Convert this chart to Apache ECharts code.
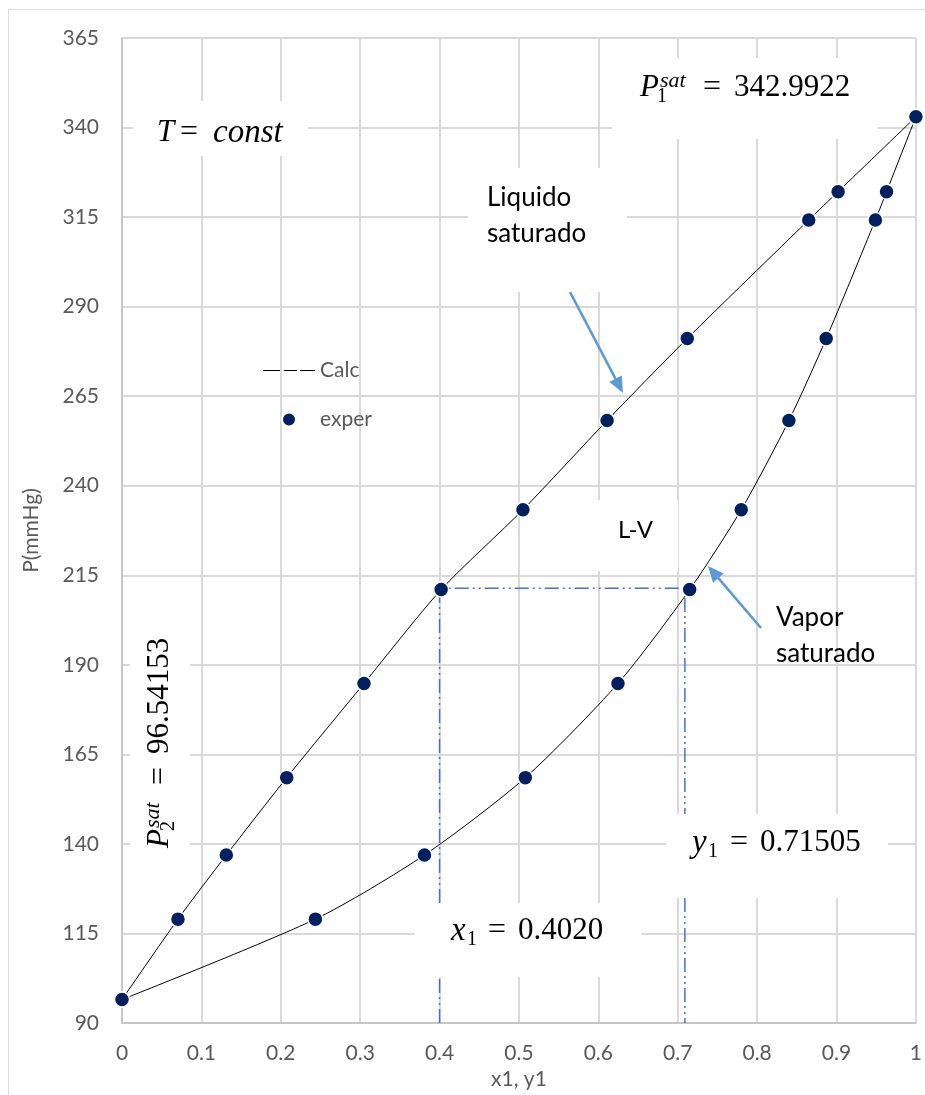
<!DOCTYPE html>
<html><head><meta charset="utf-8">
<script src="https://cdn.jsdelivr.net/npm/echarts@6/dist/echarts.min.js"></script>
<style>html,body{margin:0;padding:0;background:#fff}#c{width:925px;height:1095px}</style>
</head><body><div id="c"></div>
<script>
// ---- data ----
const pressure = [96.54153, 119.0, 136.9, 158.5, 184.8, 211.0, 233.3, 258.2, 281.1, 314.2, 322.1, 342.9922];
const liquidX1 = [0, 0.0705, 0.1314, 0.2075, 0.3048, 0.4020, 0.505, 0.611, 0.712, 0.865, 0.902, 1];
const vaporY1  = [0, 0.2436, 0.381, 0.508, 0.6247, 0.71505, 0.780, 0.840, 0.887, 0.949, 0.963, 1];
const yTickLabels = ['90','115','140','165','190','215','240','265','290','315','340','365'];
const guideX = [0.400, 0.709];
const guideP = 211.4;
const guideBase = 90;

const chart = echarts.init(document.getElementById('c'), null, {renderer:'canvas'});

const liquidData = liquidX1.map((x,i)=>[x, pressure[i]]);
const vaporData = vaporY1.map((y,i)=>[y, pressure[i]]);
const guideData = [[guideX[0], guideBase],[guideX[0], guideP],[guideX[1], guideP],[guideX[1], guideBase]];

const SERIF = '"Liberation Serif", "DejaVu Serif", serif';
const SANS = 'Lato, "Open Sans", sans-serif';

function txt(x, y, text, size, italic, family, extra) {
  return Object.assign({
    type:'text', x:x, y:y, z:5, z2:10,
    style:{text:text, fontSize:size, fontStyle: italic?'italic':'normal', fontFamily: family || SERIF,
      fill:'#000', align:'left', verticalAlign:'middle', textAlign:'left', textVerticalAlign:'middle'}
  }, extra||{});
}
function sansBlock(x, y, text, size, lh){
  return {type:'text', x:x, y:y, z:5, z2:10,
    style:{text:text, fontSize:size, fontFamily:SANS, fill:'#000', lineHeight:lh,
      align:'left', verticalAlign:'middle', textAlign:'left', textVerticalAlign:'middle'}};
}
function box(x,y,w,h){
  return {type:'rect', z:1, z2:0, shape:{x:x,y:y,width:w,height:h}, style:{fill:'#ffffff', stroke:null}};
}
function satLabel(ox, oy, rot, sub, value){
  return {type:'group', x:ox, y:oy, rotation:rot, children:[
    txt(0,0,'P',31,true),
    txt(20,-7,'sat',22,true),
    txt(17,9,sub,20,false),
    txt(63,0,'=',32,false),
    txt(94,0,value,31,false)
  ]};
}
function arrow(tx,ty,hx,hy){
  const dx=hx-tx, dy=hy-ty, L=Math.hypot(dx,dy), ux=dx/L, uy=dy/L, nx=-uy, ny=ux;
  const hl=16, hw=7;
  const bx=hx-hl*ux, by=hy-hl*uy;
  return [
    {type:'line', z:6, shape:{x1:tx,y1:ty,x2:bx+ux*2,y2:by+uy*2}, style:{stroke:'#5B9BD5', lineWidth:2.6}},
    {type:'polygon', z:6, shape:{points:[[hx,hy],[bx+hw*nx,by+hw*ny],[bx-hw*nx,by-hw*ny]]}, style:{fill:'#5B9BD5'}}
  ];
}

const graphics = [
  {type:'rect', z:0, shape:{x:8.5,y:9.5,width:1000,height:1200}, style:{fill:'none', stroke:'#d9d9d9', lineWidth:1}},
  box(133,101,175,55),
  box(612,58,266,81),
  box(468,168,159,124),
  box(597,500,81,71),
  box(130,615,60,258),
  box(415,903,226,74),
  box(666,814,222,84),
  txt(157,133,'T',31,true),
  txt(180,133,'=',32,false),
  txt(213,133,'const',33,true),
  satLabel(640,88,0,'1','342.9922'),
  satLabel(160,848,Math.PI/2,'2','96.54153'),
  txt(451,931,'x',33,true), txt(467,940,'1',20,false), txt(488,931,'=',32,false), txt(518,931,'0.4020',31,false),
  txt(692,843,'y',33,true), txt(708,852,'1',20,false), txt(730,843,'=',32,false), txt(760,843,'0.71505',31,false),
  sansBlock(487,216,'Liquido\nsaturado',26,36),
  sansBlock(776,636,'Vapor\nsaturado',26,36),
  sansBlock(618,530,'L-V',24,28),
  ...arrow(570,292,623,393),
  ...arrow(761,628,708,566)
];

// dashed-line legend icon for "Calc" (tiny corner specks fix the icon's box to 52x14)
const calcIcon = 'path://M0,0L0.01,0L0.01,0.01Z M52,14L51.99,14L51.99,13.99Z M0,6.5H17V7.6H0Z M21,6.5H34V7.6H21Z M37,6.5H52V7.6H37Z';

const option = {
  backgroundColor:'#ffffff',
  animation:false,
  textStyle:{fontFamily:SANS},
  grid:{left:122, right:9, top:38, bottom:71, containLabel:false},
  legend:{
    orient:'vertical', left:263, top:360, padding:0, itemWidth:52, itemHeight:14, itemGap:28,
    textStyle:{color:'#595959', fontSize:21, fontFamily:SANS},
    data:[{name:'Calc', icon:calcIcon, itemStyle:{color:'#000'}}, {name:'exper', icon:'circle'}]
  },
  xAxis:{
    type:'value', min:0, max:1, interval:0.1,
    name:'x1, y1', nameLocation:'middle', nameGap:46,
    nameTextStyle:{color:'#595959', fontSize:21, fontFamily:SANS},
    axisLine:{show:true, lineStyle:{color:'#bfbfbf', width:1.5}},
    axisTick:{show:false},
    axisLabel:{color:'#595959', fontSize:21, fontFamily:SANS, margin:20},
    splitLine:{show:true, lineStyle:{color:'#d9d9d9', width:2}}
  },
  yAxis:[
    {type:'value', min:90, max:365, show:false},
    {type:'category', data:yTickLabels, boundaryGap:false, position:'left',
      name:'P(mmHg)', nameLocation:'middle', nameGap:80,
      nameTextStyle:{color:'#595959', fontSize:21, fontFamily:SANS},
      axisLine:{show:true, lineStyle:{color:'#bfbfbf', width:1.5}},
      axisTick:{show:false},
      axisLabel:{color:'#595959', fontSize:21, fontFamily:SANS, margin:23, interval:0},
      splitLine:{show:true, interval:0, lineStyle:{color:'#d9d9d9', width:2}}
    }
  ],
  series:[
    {name:'guide', type:'line', data:guideData, yAxisIndex:0, z:0.6, symbol:'none', silent:true,
      lineStyle:{color:'#4472C4', width:1.5, type:[14,4,2,4,2,4]}, legendHoverLink:false},
    {name:'Calc', type:'line', data:liquidData, yAxisIndex:0, z:2, symbol:'none', showSymbol:false, smooth:0.25,
      lineStyle:{color:'#000', width:1}, itemStyle:{color:'#000'}},
    {name:'Calc', type:'line', data:vaporData, yAxisIndex:0, z:2, symbol:'none', showSymbol:false, smooth:0.25,
      lineStyle:{color:'#000', width:1}, itemStyle:{color:'#000'}},
    {name:'exper', type:'scatter', data:liquidData.concat(vaporData), yAxisIndex:0, z:3, symbol:'circle', symbolSize:15,
      itemStyle:{color:'#002060', borderColor:'#ffffff', borderWidth:1.5, opacity:1}}
  ],
  graphic:{elements:graphics}
};
chart.setOption(option);
</script></body></html>
